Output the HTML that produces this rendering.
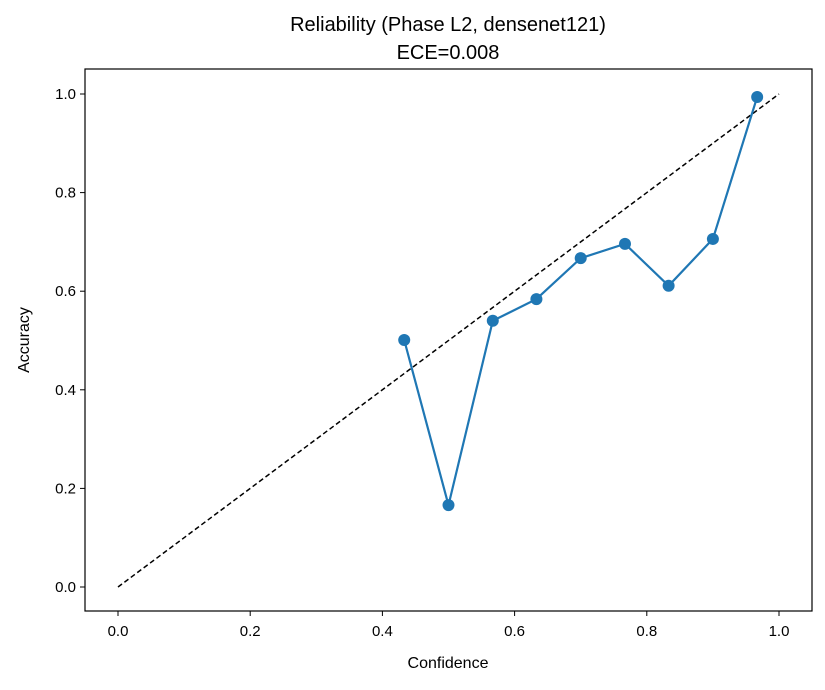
<!DOCTYPE html>
<html><head><meta charset="utf-8"><style>
body{margin:0;background:#fff;}
svg text{font-family:"Liberation Sans","DejaVu Sans",sans-serif;fill:#000;}
</style></head><body>
<svg id="chart" width="825" height="685" xmlns="http://www.w3.org/2000/svg">
<rect width="825" height="685" fill="#fff"/>
<text x="448" y="31" font-size="20" text-anchor="middle">Reliability (Phase L2, densenet121)</text>
<text x="448" y="59" font-size="20" text-anchor="middle">ECE=0.008</text>
<g id="ticks"></g>
<line id="diag" stroke="#000" stroke-width="1.5" stroke-dasharray="5,3"/>
<polyline id="series" fill="none" stroke="#1f77b4" stroke-width="2.2"/>
<g id="points"></g>
<rect x="85" y="69" width="727" height="542" fill="none" stroke="#000" stroke-width="1.2"/>
<text x="448" y="668" font-size="16" text-anchor="middle">Confidence</text>
<text x="29" y="340" font-size="16" text-anchor="middle" transform="rotate(-90 29 340)">Accuracy</text>
</svg>
<script>
const confidence=[0.433,0.5,0.567,0.633,0.7,0.767,0.833,0.9,0.967];
const accuracy=[0.501,0.166,0.540,0.584,0.667,0.696,0.611,0.706,0.994];
const xTicks=["0.0","0.2","0.4","0.6","0.8","1.0"];
const yTicks=["0.0","0.2","0.4","0.6","0.8","1.0"];
const NS="http://www.w3.org/2000/svg";
const X=v=>118+v*661, Y=v=>587-v*493;
const tg=document.getElementById('ticks');
function mk(t,a,p){const e=document.createElementNS(NS,t);for(const k in a)e.setAttribute(k,a[k]);p.appendChild(e);return e;}
xTicks.forEach(t=>{const x=X(+t);
 const l=mk('line',{x1:x,x2:x,y1:611,y2:616,stroke:'#000'},tg);
 
 
 const s=mk('text',{x:x,y:636,'font-size':15,'text-anchor':'middle'},tg);s.textContent=t;
 
 });
yTicks.forEach(t=>{const y=Y(+t);
 const l=mk('line',{x1:80,x2:85,y1:y,y2:y,stroke:'#000'},tg);
 
 
 const s=mk('text',{x:76,y:y+5,'font-size':15,'text-anchor':'end'},tg);s.textContent=t;
 
 });
const d=document.getElementById('diag');
d.setAttribute('x1',X(0));d.setAttribute('y1',Y(0));d.setAttribute('x2',X(1));d.setAttribute('y2',Y(1));
document.getElementById('series').setAttribute('points',confidence.map((c,i)=>X(c)+','+Y(accuracy[i])).join(' '));
const pg=document.getElementById('points');
confidence.forEach((c,i)=>{const p=mk('circle',{cx:X(c),cy:Y(accuracy[i]),r:6,fill:'#1f77b4'},pg);
 
 });
</script>
</body></html>
